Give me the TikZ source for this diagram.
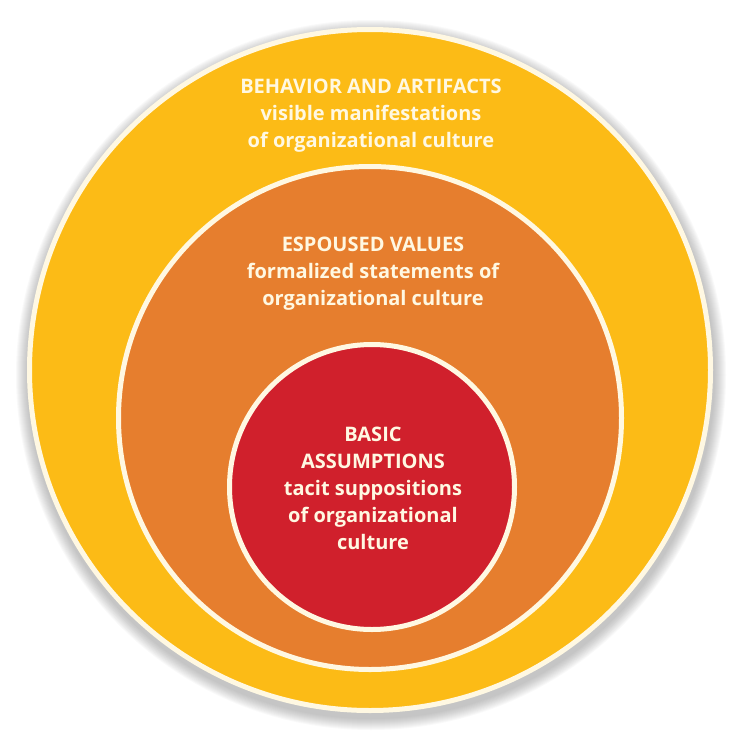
\documentclass[tikz,border=0pt]{standalone}
\usepackage{fontspec}
\setmainfont{Open Sans}
\definecolor{artyellow}{RGB}{252,187,22}
\definecolor{valorange}{RGB}{230,126,46}
\definecolor{basered}{RGB}{208,32,44}
\definecolor{cream}{RGB}{255,248,226}
\tikzset{
	ring/.style={circle, draw=cream, line width=5pt, inner sep=0pt},
	label/.style={text=cream, font=\bfseries\fontsize{20}{27}\selectfont, align=center, anchor=base}
}
\begin{document}
\begin{tikzpicture}[x=1pt,y=-1pt]
	\useasboundingbox (0,0) rectangle (742,742);
	\fill[white] (0,0) rectangle (742,742);
	% soft shadow
	\foreach \k in {1,...,12}
		\fill[black!60, opacity=0.035] (371,375) circle ({343pt+\k pt});
	\node[ring, fill=artyellow, minimum size=681pt] at (370,370) (artifacts) {};
	\node[ring, fill=valorange, minimum size=503pt] at (370,418) (values) {};
	\node[ring, fill=basered, minimum size=285pt] at (372,487) (assumptions) {};
	% base anchor sits on the last line
	\node[label] at (371,147) (artifactstext) {BEHAVIOR AND ARTIFACTS\\visible manifestations\\of organizational culture};
	\node[label] at (373,305) (valuestext) {ESPOUSED VALUES\\formalized statements of\\organizational culture};
	\node[label] at (373,549) (assumptionstext) {BASIC\\ASSUMPTIONS\\tacit suppositions\\of organizational\\culture};
\end{tikzpicture}
\end{document}
